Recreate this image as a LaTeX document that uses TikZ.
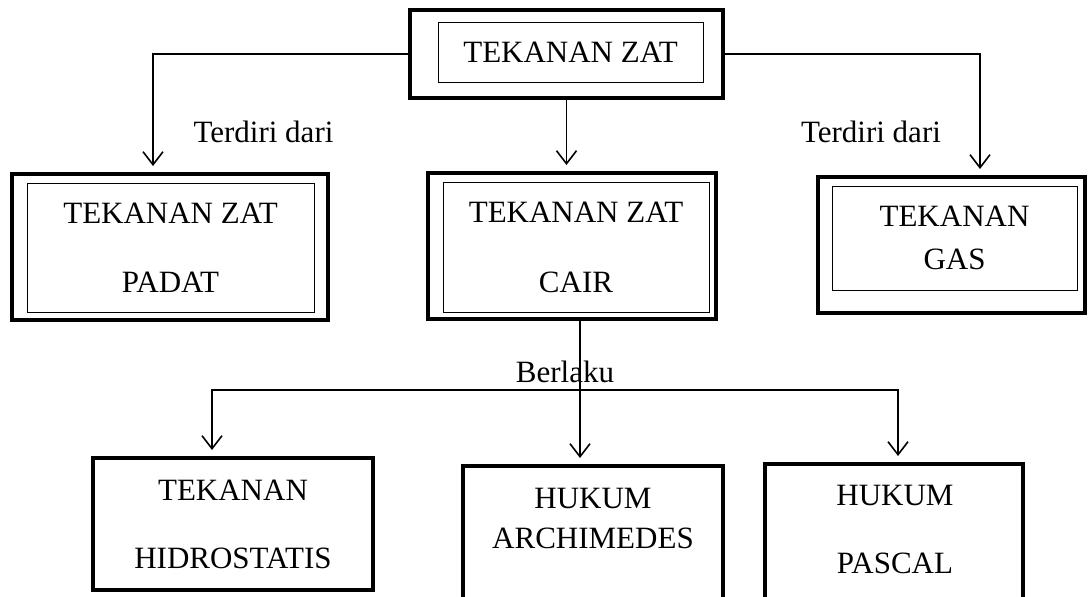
\documentclass[tikz,border=0pt]{standalone}
\usepackage{fontspec}
\setmainfont{Liberation Serif}
\usetikzlibrary{arrows.meta}

\begin{document}
\begin{tikzpicture}[x=0.5pt,y=-0.5pt,every node/.style={font=\fontsize{15.5}{18}\selectfont,inner sep=0pt,align=center},
	outerbox/.style={draw,line width=2pt,rectangle},
	innerbox/.style={draw,line width=0.5pt,rectangle},
	plainbox/.style={draw,line width=2pt,rectangle},
	gap/.style={font=\fontsize{15.5}{#1}\selectfont},
	link/.style={line width=0.8pt},
	arr/.style={link,-{Straight Barb[length=6.5pt,width=10pt]},shorten >=3pt}]
	
	\path[use as bounding box,clip] (0,0) rectangle (1088,596);
	
	\node[outerbox,minimum width=156.5pt,minimum height=44pt] (top) at (566.5,54) {};
	\node[innerbox,minimum width=132.5pt,minimum height=30pt] (top-in) at (570.5,52) {TEKANAN ZAT};
	
	\node[outerbox,minimum width=158pt,minimum height=73pt] (padat) at (170,247) {};
	\node[innerbox,gap=34.5pt,minimum width=143.5pt,minimum height=64.5pt] (padat-in) at (170.5,247.5) {TEKANAN ZAT\\PADAT};
	
	\node[outerbox,minimum width=144pt,minimum height=73pt] (cair) at (572,246) {};
	\node[innerbox,gap=35pt,minimum width=133pt,minimum height=65pt] (cair-in) at (576,247) {TEKANAN ZAT\\CAIR};
	
	\node[outerbox,minimum width=133.5pt,minimum height=68pt] (gas) at (951.5,245) {};
	\node[innerbox,gap=21.5pt,minimum width=122.5pt,minimum height=52pt] (gas-in) at (954.5,238) {TEKANAN\\GAS};
	
	\node[plainbox,gap=34pt,minimum width=140pt,minimum height=66pt] (hidro) at (233,524) {TEKANAN\\HIDROSTATIS};
	\node[plainbox,anchor=north,minimum width=130pt,minimum height=100pt] (archi) at (593,464) {};
	\node[gap=20pt] (archi-t) at (593,518) {HUKUM\\ARCHIMEDES};
	\node[plainbox,anchor=north,minimum width=129pt,minimum height=100pt] (pascal) at (894,462) {};
	\node[gap=34pt] (pascal-t) at (895,529) {HUKUM\\PASCAL};
	
	\node (terdiri-l) at (263.5,132) {Terdiri dari};
	\node (terdiri-r) at (871,132) {Terdiri dari};
	\node (berlaku) at (565,372) {Berlaku};
	
	\coordinate (cl) at (153,52);
	\coordinate (cr) at (980,52);
	\coordinate (split) at (580,390);
	\coordinate (hl) at (212,390);
	\coordinate (pr) at (898,390);
	
	\draw[arr] (top.west) -| (padat.north -| cl);
	\draw[arr] (top.east) -| (gas.north -| cr);
	\draw[arr] (top.south) -- (top.south |- cair.north);
	\draw[arr] (cair.south -| split) -- (split |- archi.north);
	\draw[arr] (split) -| (hidro.north -| hl);
	\draw[arr] (split) -| (pascal.north -| pr);
\end{tikzpicture}
\end{document}
